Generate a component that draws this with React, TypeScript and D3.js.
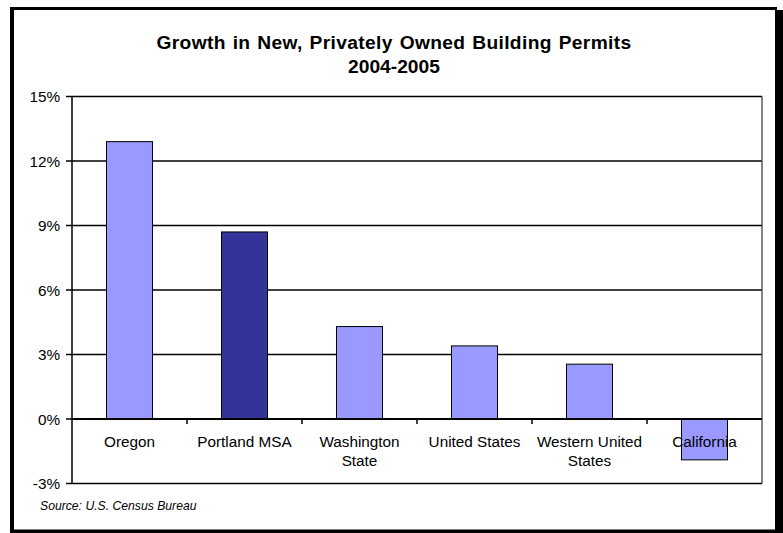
import React from "react";
import * as d3 from "d3";

const categories: string[][] = [
  ["Oregon"],
  ["Portland MSA"],
  ["Washington", "State"],
  ["United States"],
  ["Western United", "States"],
  ["California"],
];
const categoryKeys = ["Oregon", "Portland MSA", "Washington State", "United States", "Western United States", "California"];
const growthValues = [12.9, 8.7, 4.3, 3.4, 2.55, -1.9];
const highlighted = [false, true, false, false, false, false];
const yTicks = [-3, 0, 3, 6, 9, 12, 15];
const titleLines = ["Growth in New, Privately Owned Building Permits", "2004-2005"];
const sourceNote = "Source: U.S. Census Bureau";

const W = 783;
const H = 533;
const plot = { left: 72, right: 762, top: 96.5, bottom: 483.5 };
const font = "Arial, 'Liberation Sans', Helvetica, sans-serif";

export default function App() {
  const x = d3.scaleBand<string>().domain(categoryKeys).range([plot.left, plot.right]).padding(0);
  const y = d3.scaleLinear().domain([-3, 15]).range([plot.bottom, plot.top]);
  const step = x.step();
  const barW = step * 0.4;
  const y0 = y(0);

  return (
    <svg width={W} height={H} style={{ position: "absolute", left: 0, top: 0, background: "#fff" }} fontFamily={font}>
      <rect x={0} y={0} width={W} height={H} fill="#fff" />
      {/* outer frame with shadow */}
      <rect x={10} y={7} width={767} height={3} fill="#000" />
      <rect x={10} y={7} width={4} height={H - 7} fill="#000" />
      <rect x={775} y={10} width={8} height={H - 10} fill="#000" />
      <rect x={10} y={529.5} width={W - 10} height={4} fill="#000" />

      {/* title */}
      {titleLines.map((t, i) => (
        <text
          key={i}
          x={394}
          y={48.5 + i * 24}
          textAnchor="middle"
          fontWeight="bold"
          fontSize={19.2}
          letterSpacing={i === 0 ? 0.35 : 0}
          wordSpacing={i === 0 ? 1.2 : 0}
          fill="#000"
        >
          {t}
        </text>
      ))}

      {/* gridlines */}
      {yTicks.filter((t) => t > 0).map((t) => (
        <line key={t} x1={plot.left} x2={plot.right} y1={y(t)} y2={y(t)} stroke="#000" strokeWidth={1.5} />
      ))}
      {/* plot border */}
      <line x1={plot.right} x2={plot.right} y1={plot.top} y2={plot.bottom} stroke="#333" strokeWidth={1.2} />
      <line x1={plot.left} x2={plot.right} y1={plot.bottom} y2={plot.bottom} stroke="#000" strokeWidth={1.5} />

      {/* bars */}
      {growthValues.map((v, i) => {
        const cx = (x(categoryKeys[i]) as number) + step / 2;
        const top = Math.min(y(v), y0);
        const h = Math.abs(y(v) - y0);
        return (
          <rect
            key={i}
            x={cx - barW / 2}
            y={top}
            width={barW}
            height={h}
            fill={highlighted[i] ? "#333399" : "#9999FF"}
            stroke="#000"
            strokeWidth={1}
          />
        );
      })}

      {/* y axis */}
      <line x1={plot.left} x2={plot.left} y1={plot.top} y2={plot.bottom} stroke="#000" strokeWidth={1.5} />
      {yTicks.map((t) => (
        <g key={t}>
          <line x1={plot.left - 6} x2={plot.left} y1={y(t)} y2={y(t)} stroke="#000" strokeWidth={1.5} />
          <text x={60} y={y(t) + 5.5} textAnchor="end" fontSize={15.3} fill="#000">
            {`${t}%`}
          </text>
        </g>
      ))}

      {/* x axis at 0 */}
      <line x1={plot.left} x2={plot.right} y1={y0} y2={y0} stroke="#000" strokeWidth={2} />
      {categoryKeys.slice(1).map((k) => (
        <line key={k} x1={x(k) as number} x2={x(k) as number} y1={y0} y2={y0 + 5} stroke="#000" strokeWidth={1.5} />
      ))}
      {categories.map((lines, i) => {
        const cx = (x(categoryKeys[i]) as number) + step / 2;
        return (
          <text key={i} x={cx} textAnchor="middle" fontSize={15.3} fill="#000">
            {lines.map((l, j) => (
              <tspan key={j} x={cx} y={447 + j * 19}>
                {l}
              </tspan>
            ))}
          </text>
        );
      })}

      {/* source */}
      <text x={40} y={510} fontSize={12.2} fontStyle="italic" fill="#000">
        {sourceNote}
      </text>
    </svg>
  );
}
